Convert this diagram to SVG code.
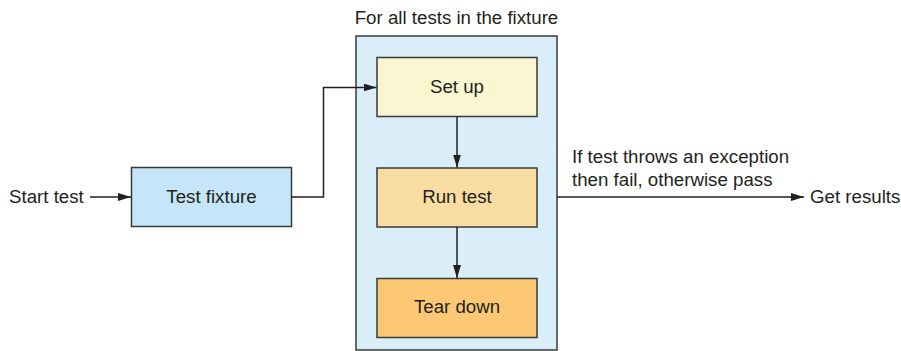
<svg xmlns="http://www.w3.org/2000/svg" width="901" height="351" viewBox="0 0 901 351">
<style>
text{font-family:"Liberation Sans",Arial,sans-serif;font-size:18.7px;fill:#231f20}
.box{stroke:#3a3a3a;stroke-width:1.5}
.c{text-anchor:middle}
.ln{fill:none;stroke:#231f20;stroke-width:1.5}
</style>
<defs>
<marker id="ah" viewBox="0 0 13 8" refX="13" refY="4" markerWidth="13" markerHeight="8" markerUnits="userSpaceOnUse" orient="auto">
<path d="M0,0 L13,4 L0,8 Z" fill="#231f20"/>
</marker>
</defs>
<rect width="901" height="351" fill="#fff"/>
<g id="container">
<rect class="box" x="356" y="36" width="201" height="314" fill="#daeef9"/>
<text class="c" x="456.5" y="24">For all tests in the fixture</text>
</g>
<g id="start"><text x="9" y="203">Start test</text></g>
<g id="fixture">
<rect class="box" x="131.5" y="167.5" width="160" height="59" fill="#c5e6f8"/>
<text class="c" x="211.5" y="203">Test fixture</text>
</g>
<g id="setup">
<rect class="box" x="377" y="57.5" width="160" height="59" fill="#faf6d2"/>
<text class="c" x="457" y="93">Set up</text>
</g>
<g id="run">
<rect class="box" x="377" y="168" width="160" height="59" fill="#f9dca2"/>
<text class="c" x="457" y="203">Run test</text>
</g>
<g id="teardown">
<rect class="box" x="377" y="278.5" width="160" height="59" fill="#fcc874"/>
<text class="c" x="457" y="313">Tear down</text>
</g>
<g id="results"><text x="810" y="203">Get results</text></g>
<g id="connectors">
<line class="ln" x1="90" y1="197" x2="131" y2="197" marker-end="url(#ah)"/>
<polyline class="ln" points="291.5,197 323.5,197 323.5,87.5 376.5,87.5" marker-end="url(#ah)"/>
<line class="ln" x1="457" y1="116.5" x2="457" y2="167.5" marker-end="url(#ah)"/>
<line class="ln" x1="457" y1="227" x2="457" y2="278" marker-end="url(#ah)"/>
<line class="ln" x1="557" y1="197" x2="804" y2="197" marker-end="url(#ah)"/>
<text x="572" y="163">If test throws an exception</text>
<text x="572" y="186">then fail, otherwise pass</text>
</g>
</svg>
